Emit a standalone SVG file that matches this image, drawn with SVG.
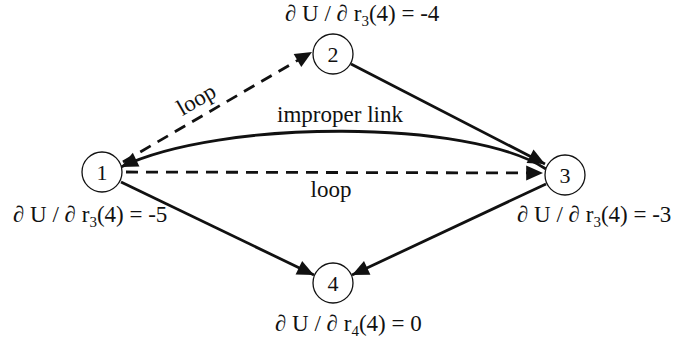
<svg xmlns="http://www.w3.org/2000/svg" width="686" height="340" viewBox="0 0 686 340">
<style>
text{font-family:"Liberation Serif","Times New Roman",serif;font-size:23px;fill:#111}
.n circle{fill:#fff;stroke:#111;stroke-width:1.3}
.n text{font-size:22px;text-anchor:middle}
.e{fill:none;stroke:#111;stroke-width:2.8}
.d{stroke-dasharray:12 8}
</style>
<defs>
<marker id="ah" viewBox="0 0 10 10" refX="10" refY="5" markerWidth="7" markerHeight="6" markerUnits="strokeWidth" orient="auto">
<path d="M0,0.5 L10,5 L0,9.5 Z" fill="#111"/>
</marker>
</defs>
<rect width="686" height="340" fill="#fff"/>
<g id="connectors">
<line class="e d" x1="123" y1="162" x2="312" y2="52" marker-end="url(#ah)"/>
<line class="e" x1="351" y1="64" x2="545" y2="164" marker-end="url(#ah)"/>
<path class="e" d="M546,169 C470,119 220,119 121,167" marker-end="url(#ah)"/>
<line class="e d" x1="126" y1="172" x2="543" y2="173" marker-end="url(#ah)"/>
<line class="e" x1="121" y1="182" x2="314" y2="275" marker-end="url(#ah)"/>
<line class="e" x1="546" y1="184" x2="352" y2="275" marker-end="url(#ah)"/>
</g>
<g id="node1" class="n"><circle cx="102" cy="172" r="20"/><text x="102" y="180">1</text></g>
<g id="node2" class="n"><circle cx="333" cy="54" r="20"/><text x="333" y="62">2</text></g>
<g id="node3" class="n"><circle cx="565" cy="175" r="20"/><text x="565" y="183">3</text></g>
<g id="node4" class="n"><circle cx="333" cy="283" r="20"/><text x="333" y="291">4</text></g>
<g id="labels">
<text x="200" y="106" text-anchor="middle" transform="rotate(-30 200 106)">loop</text>
<text x="340" y="122" text-anchor="middle">improper link</text>
<text x="331" y="197" text-anchor="middle">loop</text>
<text x="285" y="21">∂ U / ∂ r<tspan font-size="15" dy="5">3</tspan><tspan dy="-5">(4) = -4</tspan></text>
<text x="13" y="222">∂ U / ∂ r<tspan font-size="15" dy="5">3</tspan><tspan dy="-5">(4) = -5</tspan></text>
<text x="517" y="222">∂ U / ∂ r<tspan font-size="15" dy="5">3</tspan><tspan dy="-5">(4) = -3</tspan></text>
<text x="275" y="331">∂ U / ∂ r<tspan font-size="15" dy="5">4</tspan><tspan dy="-5">(4) = 0</tspan></text>
</g>
</svg>
